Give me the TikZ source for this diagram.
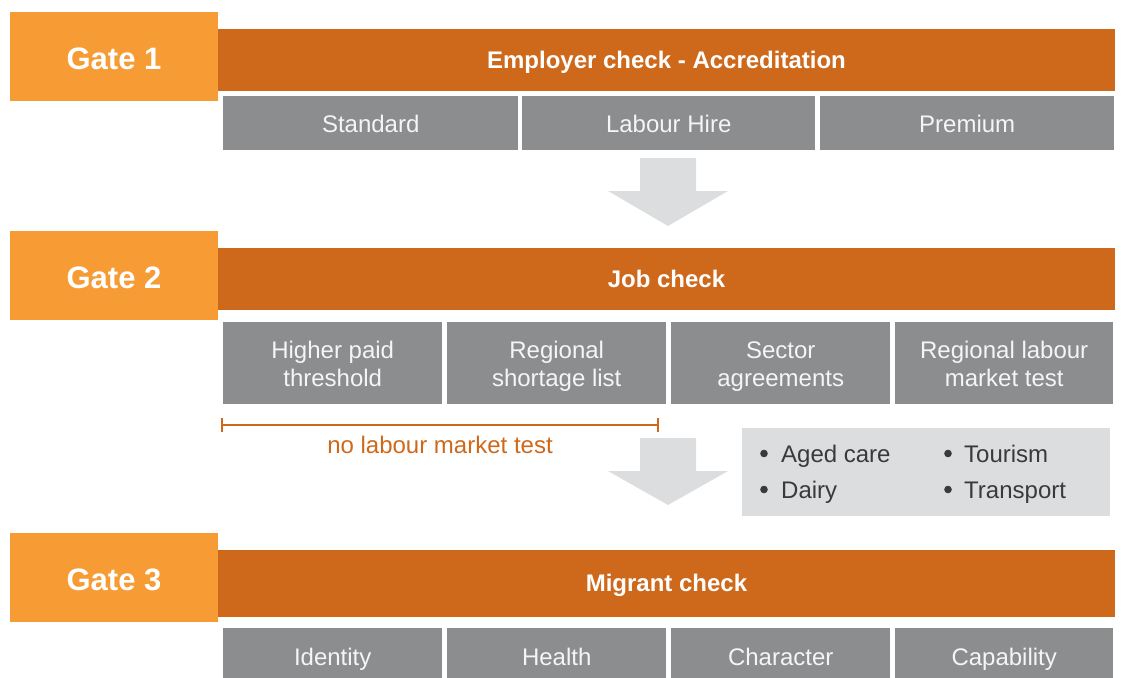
\documentclass[tikz,border=0pt]{standalone}
\usepackage{fontspec}
\setmainfont{Liberation Sans}
\begin{document}
\definecolor{gateorange}{HTML}{F79B35}
\definecolor{barorange}{HTML}{CE691C}
\definecolor{cellgray}{HTML}{8C8D8F}
\definecolor{palegray}{HTML}{DCDDDE}
\definecolor{inktext}{HTML}{3A3A3A}
\begin{tikzpicture}[x=1pt,y=-1pt,
  gatebox/.style={fill=gateorange, minimum width=208pt, minimum height=89pt,
    inner sep=0pt, anchor=north west},
  barbox/.style={fill=barorange, minimum width=897pt, minimum height=62pt,
    inner sep=0pt, anchor=north west},
  cellbox/.style={fill=cellgray, inner sep=0pt, anchor=north west},
  gatetext/.style={text=white, font=\fontsize{31}{34}\selectfont\bfseries, inner sep=0pt, anchor=base},
  bartext/.style={text=white, font=\fontsize{24}{28}\selectfont\bfseries, inner sep=0pt, anchor=base},
  celltext/.style={text=white!96!black, font=\fontsize{24}{28}\selectfont, inner sep=0pt, anchor=base},
  blockarrow/.style={fill=palegray, draw=none},
  bullettext/.style={text=inktext, font=\fontsize{24}{28}\selectfont, anchor=base west, inner sep=0pt},
  bulletdot/.style={fill=inktext},
]
\useasboundingbox (0,0) rectangle (1121,677);

% ---- Gate 1: employer check
\node[gatebox] (g1) at (10,12) {};
\node[gatetext] (g1t) at (114,69.5) {Gate 1};
\node[barbox] (b1) at (218,29) {};
\node[bartext] (b1t) at (666.5,68.5) {Employer check - Accreditation};
\node[cellbox, minimum width=295pt, minimum height=54pt] (s1) at (223,96) {};
\node[cellbox, minimum width=293pt, minimum height=54pt] (s2) at (522,96) {};
\node[cellbox, minimum width=294pt, minimum height=54pt] (s3) at (820,96) {};
\node[celltext] at (s1.center |- 0,132) {Standard};
\node[celltext] at (s2.center |- 0,132) {Labour Hire};
\node[celltext] at (s3.center |- 0,132) {Premium};

% arrow down to gate 2
\fill[blockarrow] (640,158) -- (696,158) -- (696,191) -- (728,191) -- (668,226)
  -- (608,191) -- (640,191) -- cycle;

% ---- Gate 2: job check
\node[gatebox] (g2) at (10,231) {};
\node[gatetext] (g2t) at (114,288.5) {Gate 2};
\node[barbox] (b2) at (218,248) {};
\node[bartext] (b2t) at (666.5,287.5) {Job check};
\node[cellbox, minimum width=219pt, minimum height=82pt] (j1) at (223,322) {};
\node[cellbox, minimum width=219pt, minimum height=82pt] (j2) at (447,322) {};
\node[cellbox, minimum width=219pt, minimum height=82pt] (j3) at (671,322) {};
\node[cellbox, minimum width=218pt, minimum height=82pt] (j4) at (895,322) {};
\node[celltext] at (j1.center |- 0,358) {Higher paid};
\node[celltext] at (j1.center |- 0,386) {threshold};
\node[celltext] at (j2.center |- 0,358) {Regional};
\node[celltext] at (j2.center |- 0,386) {shortage list};
\node[celltext] at (j3.center |- 0,358) {Sector};
\node[celltext] at (j3.center |- 0,386) {agreements};
\node[celltext] at (j4.center |- 0,358) {Regional labour};
\node[celltext] at (j4.center |- 0,386) {market test};

% span of options that need no labour market test
\coordinate (nl) at (222,425);
\coordinate (nr) at (658,425);
\draw[barorange, line width=2.2pt] (nl) -- (nr);
\draw[barorange, line width=2pt] ([yshift=-7pt]nl) -- ([yshift=7pt]nl);
\draw[barorange, line width=2pt] ([yshift=-7pt]nr) -- ([yshift=7pt]nr);
\node[text=barorange, font=\fontsize{24}{28}\selectfont, inner sep=0pt, anchor=base] (nlmt) at (440,453) {no labour market test};

% arrow down to gate 3
\fill[blockarrow] (640,438) -- (696,438) -- (696,471) -- (728,471) -- (668,505)
  -- (608,471) -- (640,471) -- cycle;

% sectors covered by agreements
\node[fill=palegray, minimum width=368pt, minimum height=88pt, inner sep=0pt, anchor=north west] (sec) at (742,428) {};
\fill[bulletdot] (764,453.5) circle (3.8pt);
\fill[bulletdot] (764,489.5) circle (3.8pt);
\fill[bulletdot] (948,453.5) circle (3.8pt);
\fill[bulletdot] (948,489.5) circle (3.8pt);
\node[bullettext] (t1) at (781,462.5) {Aged care};
\node[bullettext] (t2) at (781,498.5) {Dairy};
\node[bullettext] (t3) at (964,462.5) {Tourism};
\node[bullettext] (t4) at (964,498.5) {Transport};

% ---- Gate 3: migrant check
\node[gatebox] (g3) at (10,533) {};
\node[gatetext] (g3t) at (114,590.5) {Gate 3};
\node[barbox, minimum height=67pt] (b3) at (218,550) {};
\node[bartext] (b3t) at (666.5,591) {Migrant check};
\node[cellbox, minimum width=219pt, minimum height=60pt] (m1) at (223,628) {};
\node[cellbox, minimum width=219pt, minimum height=60pt] (m2) at (447,628) {};
\node[cellbox, minimum width=219pt, minimum height=60pt] (m3) at (671,628) {};
\node[cellbox, minimum width=218pt, minimum height=60pt] (m4) at (895,628) {};
\node[celltext] at (m1.center |- 0,665) {Identity};
\node[celltext] at (m2.center |- 0,665) {Health};
\node[celltext] at (m3.center |- 0,665) {Character};
\node[celltext] at (m4.center |- 0,665) {Capability};
\end{tikzpicture}
\end{document}
